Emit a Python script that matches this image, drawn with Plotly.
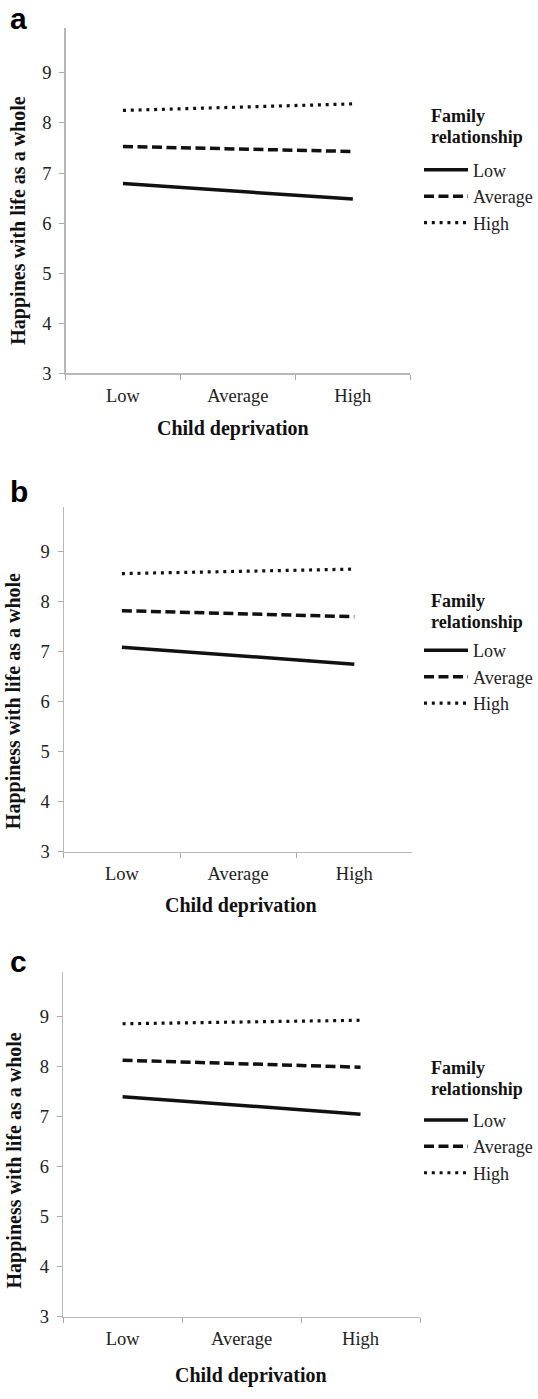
import plotly.graph_objects as go

W, H = 538, 1399

categories = ["Low", "Average", "High"]
groups = ["Low", "Average", "High"]

a_low = [6.79, 6.64, 6.48]
a_avg = [7.53, 7.48, 7.43]
a_high = [8.25, 8.31, 8.38]

b_low = [7.09, 6.92, 6.75]
b_avg = [7.82, 7.76, 7.70]
b_high = [8.56, 8.60, 8.65]

c_low = [7.40, 7.22, 7.05]
c_avg = [8.13, 8.06, 7.99]
c_high = [8.86, 8.90, 8.93]

y_ticks = [3, 4, 5, 6, 7, 8, 9]
y_titles = ["Happines with life as a whole",
            "Happiness with life as a whole",
            "Happiness with life as a whole"]
x_title = "Child deprivation"
letters = ["a", "b", "c"]
legend_title = ["Family", "relationship"]

# layout geometry in pixels (from top-left)
panels = [
    dict(series=[a_low, a_avg, a_high], x0=65.5, x1=410.3, top=28.5, bot=376,
         xt=(233, 432), yt=(18.3, 222), letter=(18, 0, "top"),
         ltitle=(428.6, 117, 138), leg=198),
    dict(series=[b_low, b_avg, b_high], x0=63.8, x1=412.4, top=510.7, bot=858,
         xt=(241, 912), yt=(14.2, 706), letter=(18.6, 495, "middle"),
         ltitle=(428.6, 605.5, 626.5), leg=682),
    dict(series=[c_low, c_avg, c_high], x0=63.1, x1=420, top=979.3, bot=1326,
         xt=(251.4, 1385), yt=(14.8, 1169), letter=(18, 968, "middle"),
         ltitle=(428.6, 1076, 1097), leg=1155),
]

styles = [dict(dash="solid", width=3.5),
          dict(dash="10px,4.5px", width=3.5),
          dict(dash="3px,4.8px", width=3.2)]

SERIF = "Liberation Serif, Times New Roman, serif"
SANS = "Liberation Sans, Arial, sans-serif"
fig = go.Figure()
annotations = []
layout = {}

for i, p in enumerate(panels):
    k = "" if i == 0 else str(i + 1)
    leg = "legend" if i == 0 else f"legend{i+1}"
    for g, vals, st in zip(groups, p["series"], styles):
        fig.add_trace(go.Scatter(
            x=categories, y=vals, name=g, mode="lines",
            line=dict(color="#111111", width=st["width"], dash=st["dash"]),
            xaxis="x" + k, yaxis="y" + k, legend=leg, showlegend=True,
        ))
    layout["xaxis" + k] = dict(
        domain=[p["x0"] / W, p["x1"] / W], anchor="y" + k,
        type="category", range=[-0.5, 2.5], tickson="boundaries",
        ticks="outside", ticklen=5, tickcolor="#aaaaaa", tickwidth=1,
        showline=True, linecolor="#b8b8b8", linewidth=1.3,
        showgrid=False, zeroline=False, ticklabelstandoff=5,
        tickfont=dict(family=SERIF, size=18.5, color="#222222"),
    )
    layout["yaxis" + k] = dict(
        domain=[1 - p["bot"] / H, 1 - p["top"] / H], anchor="x" + k,
        range=[3, 9.89], tickvals=y_ticks, ticks="outside", ticklen=5,
        tickcolor="#aaaaaa", tickwidth=1,
        showline=True, linecolor="#b8b8b8", linewidth=1.3,
        showgrid=False, zeroline=False, ticklabelstandoff=4,
        tickfont=dict(family=SERIF, size=18.5, color="#222222"),
    )
    layout[leg] = dict(
        x=1, y=1 - p["leg"] / H, xanchor="right", yanchor="middle",
        xref="paper", yref="paper",
        font=dict(family=SERIF, size=18, color="#222222"),
        bgcolor="rgba(0,0,0,0)", borderwidth=0, itemwidth=44,
        tracegroupgap=0, traceorder="normal",
    )
    # legend title (two lines)
    lx, ly1, ly2 = p["ltitle"]
    for txt, ly in zip(legend_title, (ly1, ly2)):
        annotations.append(dict(
            text="<b>" + txt + "</b>", x=lx / W, y=1 - ly / H,
            xref="paper", yref="paper", xanchor="left", yanchor="middle",
            showarrow=False, font=dict(family=SERIF, size=18, color="#111111")))
    annotations.append(dict(
        text="<b>" + x_title + "</b>", x=p["xt"][0] / W, y=1 - p["xt"][1] / H,
        xref="paper", yref="paper", xanchor="center", yanchor="middle",
        showarrow=False, font=dict(family=SERIF, size=20, color="#111111")))
    annotations.append(dict(
        text="<b>" + y_titles[i] + "</b>", x=p["yt"][0] / W, y=1 - p["yt"][1] / H,
        xref="paper", yref="paper", xanchor="center", yanchor="middle",
        textangle=-90, showarrow=False,
        font=dict(family=SERIF, size=20, color="#111111")))
    lxp, lyp, lanchor = p["letter"]
    annotations.append(dict(
        text="<b>" + letters[i] + "</b>", x=lxp / W, y=1 - lyp / H,
        xref="paper", yref="paper", xanchor="center", yanchor=lanchor,
        showarrow=False, font=dict(family=SANS, size=30, color="#000000")))

fig.update_layout(
    width=W, height=H, margin=dict(l=0, r=0, t=0, b=0),
    paper_bgcolor="white", plot_bgcolor="white",
    annotations=annotations, **layout,
)

fig.write_html(
    "out.html",
    config={"displayModeBar": False, "staticPlot": True},
    post_script="document.documentElement.style.margin='0';"
                "document.body.style.margin='0';document.body.style.padding='0';"
                "document.body.style.overflow='hidden';"
                "document.documentElement.style.overflow='hidden';",
)
